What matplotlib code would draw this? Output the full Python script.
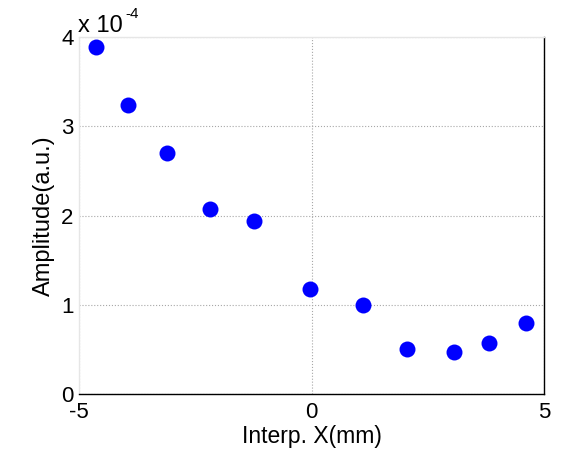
import matplotlib
matplotlib.use("Agg")
import matplotlib.pyplot as plt

plt.rcParams["font.family"] = ["Liberation Sans", "DejaVu Sans"]

# data (amplitude in units of 1e-4)
x_mm = [-4.63, -3.95, -3.11, -2.18, -1.24, -0.03, 1.11, 2.05, 3.06, 3.82, 4.61]
amp = [3.89, 3.24, 2.70, 2.07, 1.94, 1.18, 1.00, 0.50, 0.47, 0.57, 0.80]
x_ticks = [-5, 0, 5]
y_ticks = [0, 1, 2, 3, 4]

fig = plt.figure(figsize=(5.66, 4.51), dpi=100)
ax = fig.add_axes([79 / 566, 1 - 394 / 451, 465 / 566, 357 / 451])

ax.plot(x_mm, amp, "o", color="#0000ff", markersize=11.5, markeredgewidth=0)

ax.set_xlim(-5, 5)
ax.set_ylim(0, 4)
ax.set_xticks(x_ticks)
ax.set_yticks(y_ticks)
ax.set_xticklabels([str(t) for t in x_ticks])
ax.set_yticklabels([str(t) for t in y_ticks])
ax.tick_params(length=0, labelsize=16)
ax.tick_params(axis="x", pad=6)
ax.tick_params(axis="y", pad=4)

ax.grid(True, linestyle=":", color="#a8a8a8", linewidth=0.8)
ax.set_axisbelow(True)

ax.spines["top"].set_color("#e6e6e6")
ax.spines["left"].set_color("#e6e6e6")
ax.spines["bottom"].set_color("black")
ax.spines["right"].set_color("black")
for s in ax.spines.values():
    s.set_linewidth(1.0)

ax.set_xlabel("Interp. X(mm)", fontsize=16.5, labelpad=1)
ax.set_ylabel("Amplitude(a.u.)", fontsize=17, labelpad=4)

# exponent label, MATLAB style
fig.text(78 / 566, 1 - 32 / 451, "x 10", fontsize=17, ha="left", va="baseline")
fig.text(125 / 566, 1 - 18 / 451, "-4", fontsize=11, ha="left", va="baseline")

fig.savefig("out.png", dpi=100)
